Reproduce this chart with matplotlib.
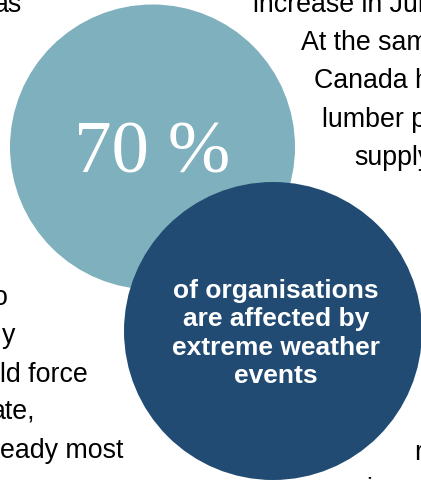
import matplotlib.pyplot as plt
from matplotlib.patches import Circle

W, H = 421, 481

# circles: centre x, centre y, radius (pixels, y downwards)
circle_x = [152.5, 273]
circle_y = [148, 332]
circle_r = [142.5, 149]
circle_colors = ['#7eb0bd', '#214b73']

big_label = '70 %'
circle_lines = ['of organisations', 'are affected by', 'extreme weather', 'events']

# body text around the circles (cut off at the edges)
left_lines = ['as', 'o', 'y', 'ld force', 'ate,', 'eady most']
left_end_x = [22, 8, 15, 88, 35, 123]
left_base_y = [12, 305, 343, 382, 419, 458]

right_lines = ['increase in Jun', 'At the same', 'Canada ha', 'lumber pr', 'supply', 'I', 'r', 'i']
right_start_x = [253, 301, 314, 322, 354, 419, 414, 366]
right_base_y = [12, 50, 88, 127, 165, 230, 460, 497]

fig = plt.figure(figsize=(W / 100, H / 100), dpi=100)
ax = fig.add_axes([0, 0, 1, 1])
ax.set_xlim(0, W)
ax.set_ylim(H, 0)
ax.axis('off')

body = dict(fontsize=19.3, family='Liberation Sans', color='black', va='baseline', zorder=1)
for t, x, y in zip(left_lines, left_end_x, left_base_y):
    ax.text(x, y, t, ha='right', **body)
for t, x, y in zip(right_lines, right_start_x, right_base_y):
    ax.text(x, y, t, ha='left', **body)

for x, y, r, c in zip(circle_x, circle_y, circle_r, circle_colors):
    ax.add_patch(Circle((x, y), r, color=c, lw=0, zorder=2))

ax.text(152, 173, big_label, ha='center', va='baseline', color='white',
        fontsize=54, family='Liberation Serif', zorder=3)

for i, t in enumerate(circle_lines):
    ax.text(276, 298 + i * 28.3, t, ha='center', va='baseline', color='white',
            fontsize=19, family='Liberation Sans', weight='bold', zorder=3)

fig.savefig('out.png', dpi=100)
